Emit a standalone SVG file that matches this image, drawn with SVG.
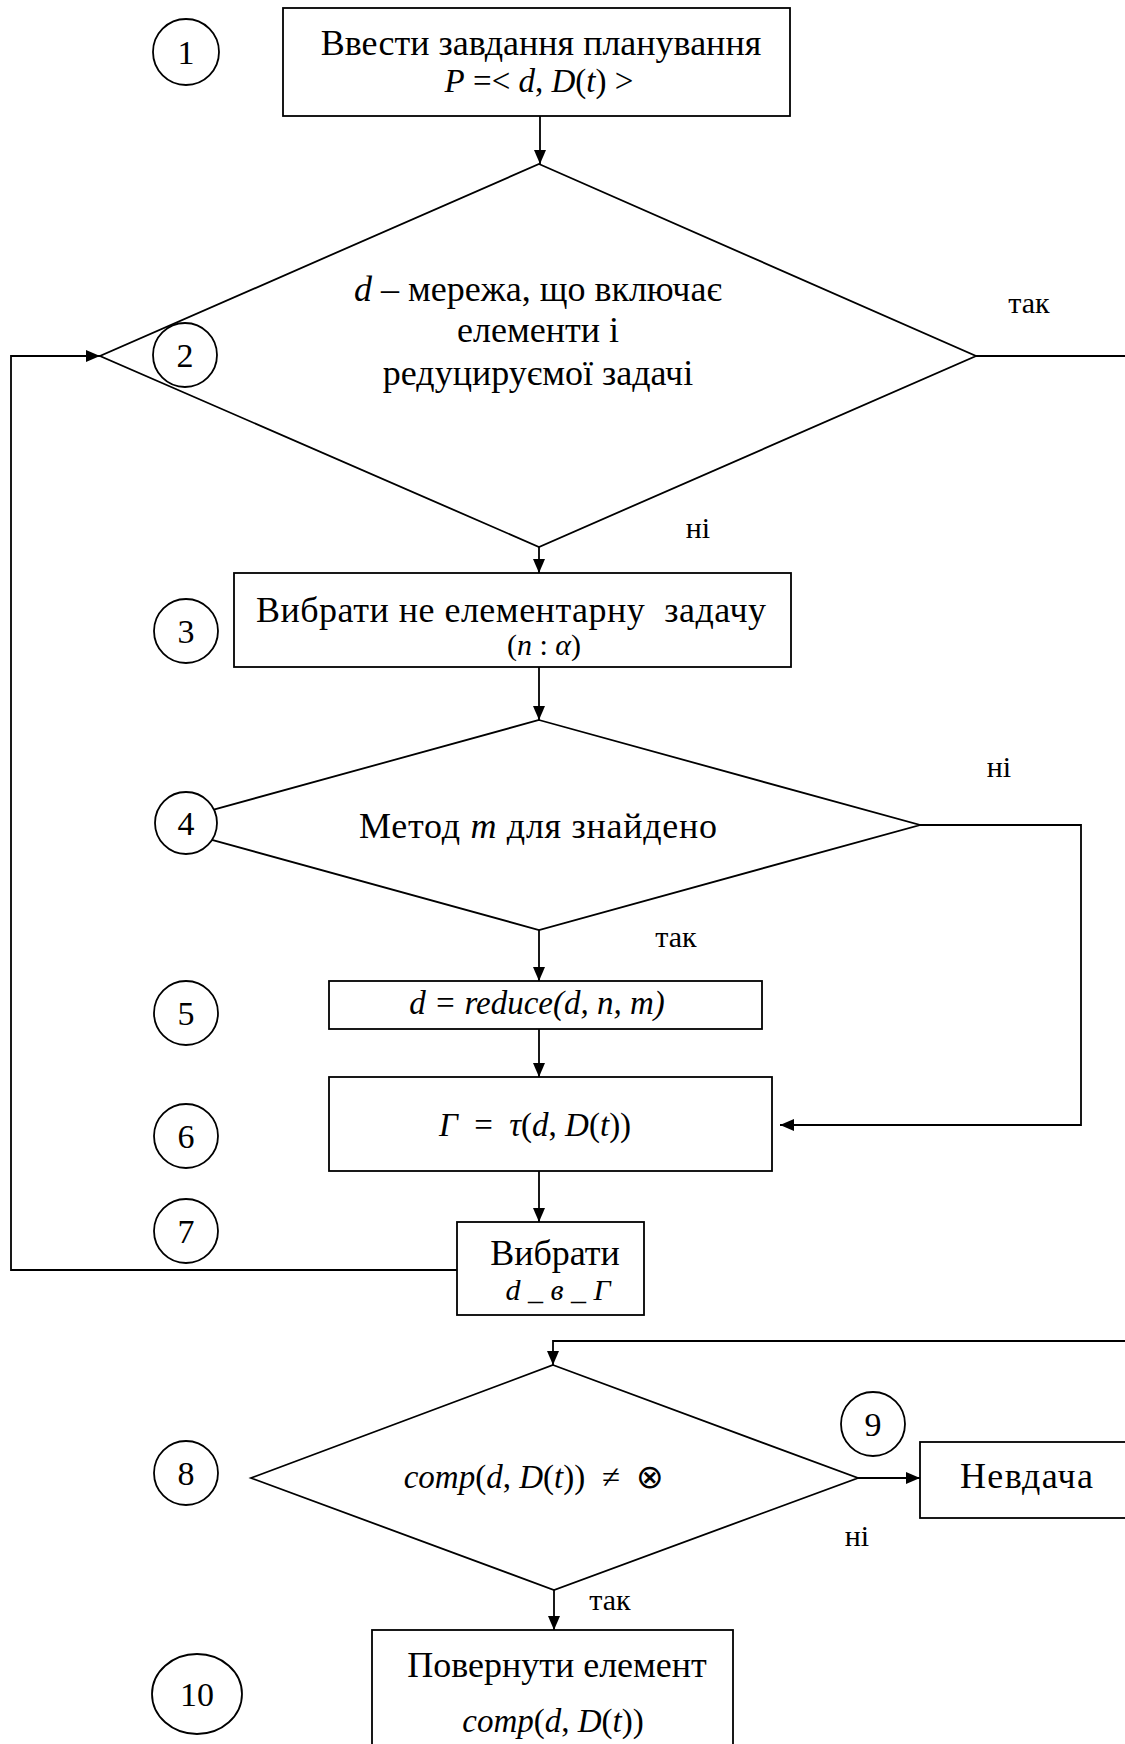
<svg xmlns="http://www.w3.org/2000/svg" width="1125" height="1744" viewBox="0 0 1125 1744">
  <style>
    .shape { fill: #ffffff; stroke: #000000; stroke-width: 1.8; }
    .num { fill: #ffffff; stroke: #000000; stroke-width: 1.8; }
    .wire { fill: none; stroke: #000000; stroke-width: 1.8; }
    text { font-family: "Liberation Serif", "Times New Roman", serif; fill: #000000; }
    .t { font-size: 36px; }
    .m { font-size: 30px; }
    .mb { font-size: 33px; }
    .lbl { font-size: 30px; }
    .dig { font-size: 34px; text-anchor: middle; }
    .c { text-anchor: middle; }
    .i { font-style: italic; }
  </style>
  <defs>
    <marker id="arrow" markerUnits="userSpaceOnUse" markerWidth="16" markerHeight="14" refX="14" refY="6" orient="auto">
      <path d="M0,0 L14,6 L0,12 Z" fill="#000000"/>
    </marker>
  </defs>
  <rect width="1125" height="1744" fill="#ffffff"/>

  <!-- connectors -->
  <g id="connectors">
    <path class="wire" d="M540,116 V164" marker-end="url(#arrow)"/>
    <path class="wire" d="M976,356 H1125"/>
    <path class="wire" d="M539,547 V573" marker-end="url(#arrow)"/>
    <path class="wire" d="M539,667 V720" marker-end="url(#arrow)"/>
    <path class="wire" d="M920,825 H1081 V1125 H780" marker-end="url(#arrow)"/>
    <path class="wire" d="M539,930 V981" marker-end="url(#arrow)"/>
    <path class="wire" d="M539,1029 V1077" marker-end="url(#arrow)"/>
    <path class="wire" d="M539,1171 V1222" marker-end="url(#arrow)"/>
    <path class="wire" d="M457,1270 H11 V356 H100" marker-end="url(#arrow)"/>
    <path class="wire" d="M1125,1341 H553 V1365" marker-end="url(#arrow)"/>
    <path class="wire" d="M858,1478 H920" marker-end="url(#arrow)"/>
    <path class="wire" d="M554,1590 V1630" marker-end="url(#arrow)"/>
    <text class="lbl c" x="1029" y="313">так</text>
    <text class="lbl c" x="698" y="538">ні</text>
    <text class="lbl c" x="999" y="777">ні</text>
    <text class="lbl c" x="676" y="947">так</text>
    <text class="lbl c" x="857" y="1546">ні</text>
    <text class="lbl c" x="610" y="1610">так</text>
  </g>

  <!-- 1: input -->
  <g id="node-input">
    <rect class="shape" x="283" y="8" width="507" height="108"/>
    <text class="t c" x="541" y="55">Ввести завдання планування</text>
    <text class="mb c" x="539" y="92"><tspan class="i">P</tspan> =&lt; <tspan class="i">d</tspan>, <tspan class="i">D</tspan>(<tspan class="i">t</tspan>) &gt;</text>
  </g>

  <!-- 2: network check -->
  <g id="node-check-network">
    <polygon class="shape" points="539,164 976,356 539,547 100,356"/>
    <text class="t c" x="538" y="301"><tspan class="i">d</tspan> – мережа, що включає</text>
    <text class="t c" x="538" y="342">елементи і</text>
    <text class="t c" x="538" y="385">редуцируємої задачі</text>
  </g>

  <!-- 3: choose task -->
  <g id="node-choose-task">
    <rect class="shape" x="234" y="573" width="557" height="94"/>
    <text class="t" x="256" y="622" textLength="510" lengthAdjust="spacing" xml:space="preserve">Вибрати не елементарну  задачу</text>
    <text class="m c" x="544" y="655">(<tspan class="i">n</tspan> : <tspan class="i">α</tspan>)</text>
  </g>

  <!-- 4: method found -->
  <g id="node-method">
    <polygon class="shape" points="539,720 920,825 539,930 158,825"/>
    <text class="t" x="359" y="838" textLength="358" lengthAdjust="spacing">Метод <tspan class="i">m</tspan> для знайдено</text>
  </g>

  <!-- 5: reduce -->
  <g id="node-reduce">
    <rect class="shape" x="329" y="981" width="433" height="48"/>
    <text class="mb c i" x="537" y="1014">d = reduce(d, n, m)</text>
  </g>

  <!-- 6: tau -->
  <g id="node-tau">
    <rect class="shape" x="329" y="1077" width="443" height="94"/>
    <text class="mb c" x="535" y="1136" xml:space="preserve"><tspan class="i">Γ</tspan>  =  <tspan class="i">τ</tspan>(<tspan class="i">d</tspan>, <tspan class="i">D</tspan>(<tspan class="i">t</tspan>))</text>
  </g>

  <!-- 7: choose d in G -->
  <g id="node-choose-d">
    <rect class="shape" x="457" y="1222" width="187" height="93"/>
    <text class="t c" x="555" y="1265">Вибрати</text>
    <text class="m c i" x="558" y="1300">d _ в _ Г</text>
  </g>

  <!-- 8: compatibility -->
  <g id="node-comp">
    <polygon class="shape" points="553,1365 858,1478 554,1590 251,1478"/>
    <text class="mb c" x="534" y="1488" xml:space="preserve"><tspan class="i">comp</tspan>(<tspan class="i">d</tspan>, <tspan class="i">D</tspan>(<tspan class="i">t</tspan>))  ≠  ⊗</text>
  </g>

  <!-- 9: failure -->
  <g id="node-fail">
    <rect class="shape" x="920" y="1442" width="215" height="76"/>
    <text class="t" x="960" y="1488" textLength="133" lengthAdjust="spacing">Невдача</text>
  </g>

  <!-- 10: return element -->
  <g id="node-return">
    <rect class="shape" x="372" y="1630" width="361" height="125"/>
    <text class="t c" x="557" y="1677">Повернути елемент</text>
    <text class="mb c" x="553" y="1732"><tspan class="i">comp</tspan>(<tspan class="i">d</tspan>, <tspan class="i">D</tspan>(<tspan class="i">t</tspan>))</text>
  </g>

  <!-- step numbers -->
  <g id="step-numbers">
    <g id="step-1"><circle class="num" cx="186" cy="52" r="33"/><text class="dig" x="186" y="64">1</text></g>
    <g id="step-2"><circle class="num" cx="185" cy="355" r="32"/><text class="dig" x="185" y="367">2</text></g>
    <g id="step-3"><circle class="num" cx="186" cy="631" r="32"/><text class="dig" x="186" y="643">3</text></g>
    <g id="step-4"><circle class="num" cx="186" cy="823" r="31"/><text class="dig" x="186" y="835">4</text></g>
    <g id="step-5"><circle class="num" cx="186" cy="1013" r="32"/><text class="dig" x="186" y="1025">5</text></g>
    <g id="step-6"><circle class="num" cx="186" cy="1136" r="32"/><text class="dig" x="186" y="1148">6</text></g>
    <g id="step-7"><circle class="num" cx="186" cy="1231" r="32"/><text class="dig" x="186" y="1243">7</text></g>
    <g id="step-8"><circle class="num" cx="186" cy="1473" r="32"/><text class="dig" x="186" y="1485">8</text></g>
    <g id="step-9"><circle class="num" cx="873" cy="1424" r="32"/><text class="dig" x="873" y="1436">9</text></g>
    <g id="step-10"><ellipse class="num" cx="197" cy="1694" rx="45" ry="40"/><text class="dig" x="197" y="1706">10</text></g>
  </g>
</svg>
